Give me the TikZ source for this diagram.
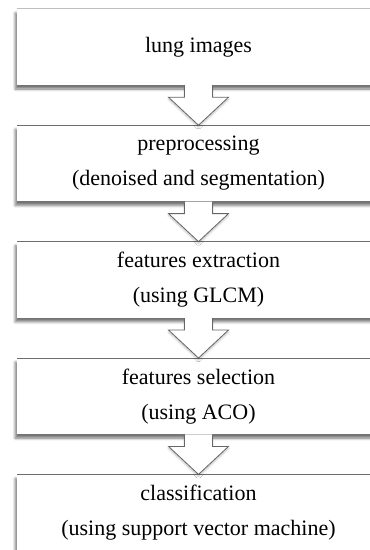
\documentclass[tikz,border=0pt]{standalone}
\usepackage{fontspec}
\setmainfont{Liberation Serif}
\usepackage{tikz}
\usetikzlibrary{positioning, calc, shadows.blur}
\definecolor{edgegray}{HTML}{6e6e6e}
\definecolor{shadegray}{HTML}{404040}
\definecolor{arrowgray}{HTML}{666666}

\begin{document}
\begin{tikzpicture}[
    x=1pt, y=-1pt,
    stage/.style={
        rectangle, fill=white, draw=none,
        minimum width=363pt, minimum height=76pt,
        align=center, inner sep=0pt,
        font=\fontsize{22}{35}\selectfont,
        blur shadow={shadow xshift=-1.8pt, shadow yshift=-4pt,
                     shadow blur radius=2.6pt, shadow opacity=55,
                     shadow blur steps=8},
    },
    topline/.style={draw=edgegray, line width=0.8pt},
    flowarrow/.style={
        draw=arrowgray, fill=white, line width=0.8pt, line join=miter,
        blur shadow={shadow xshift=0pt, shadow yshift=-2pt,
                     shadow blur radius=2pt, shadow opacity=25},
    },
    node distance=40pt,
]
\useasboundingbox (0,0) rectangle (370,550);

% ── pipeline stages ─────────────────────────────────────────────────────────
\node[stage] (b1) at (198.5,47) {lung images};
\node[stage, below=of b1] (b2) {preprocessing\\(denoised and segmentation)};
\node[stage, below=of b2] (b3) {features extraction\\(using GLCM)};
\node[stage, below=of b3] (b4) {features selection\\(using ACO)};
\node[stage, below=of b4] (b5) {classification\\(using support vector machine)};

\draw[topline, draw=edgegray!45] (b1.north west) -- (b1.north east);
\foreach \b in {b2, b3, b4, b5}
    \draw[topline] (\b.north west) -- (\b.north east);

% ── hollow block arrows between stages ──────────────────────────────────────
\foreach \a/\b in {b1/b2, b2/b3, b3/b4, b4/b5}
    \draw[flowarrow] ($(\a.south)+(-14,0)$) -- ++(0,12) -- ++(-16,0)
        -- (\b.north) -- ($(\b.north)+(30,-28)$) -- ++(-16,0)
        -- ($(\a.south)+(14,0)$);

\end{tikzpicture}
\end{document}
